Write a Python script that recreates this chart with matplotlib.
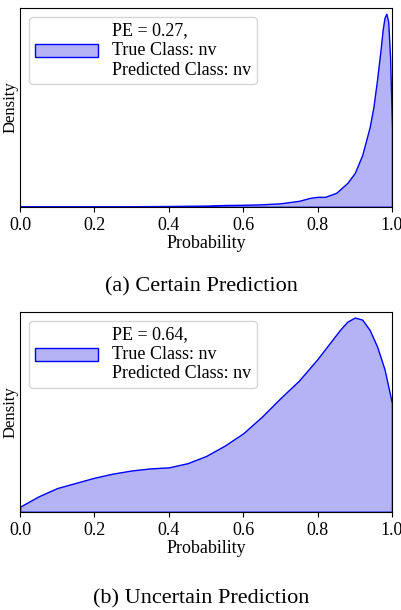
import numpy as np
import matplotlib
matplotlib.use('Agg')
import matplotlib.pyplot as plt

plt.rcParams['font.family'] = ['Liberation Serif', 'DejaVu Serif']
plt.rcParams['font.size'] = 13

# Certain prediction density
prob_a = [0.0, 0.1, 0.2, 0.3, 0.4, 0.5, 0.55, 0.6, 0.65, 0.7, 0.75, 0.78, 0.8,
          0.82, 0.85, 0.88, 0.9, 0.92, 0.94, 0.95, 0.96, 0.97, 0.975, 0.98,
          0.985, 0.99, 0.995, 1.0]
dens_a = [0.3, 0.4, 0.5, 0.6, 0.8, 1.2, 1.8, 2, 2.5, 3.5, 6, 9, 10, 10, 14, 24,
          34, 52, 80, 100, 128, 160, 178, 190, 194, 186, 150, 80]
# Uncertain prediction density
prob_b = [0.0, 0.05, 0.1, 0.15, 0.2, 0.25, 0.3, 0.35, 0.4, 0.45, 0.5, 0.55,
          0.6, 0.65, 0.7, 0.75, 0.8, 0.83, 0.86, 0.88, 0.9, 0.92, 0.94, 0.96,
          0.98, 1.0]
dens_b = [5, 15, 23, 28, 33, 37, 40, 42, 43, 47, 54, 64, 76, 92, 110, 127,
          148, 162, 176, 184, 188, 186, 176, 160, 138, 105]

panels = [
    (prob_a, dens_a, 'PE = 0.27,\nTrue Class: nv\nPredicted Class: nv',
     '(a) Certain Prediction', [0.05, 0.661, 0.925, 0.326], 0.522),
    (prob_b, dens_b, 'PE = 0.64,\nTrue Class: nv\nPredicted Class: nv',
     '(b) Uncertain Prediction', [0.05, 0.161, 0.925, 0.328], 0.010),
]

fig = plt.figure(figsize=(4.02, 6.10), dpi=100)
for x, y, lab, cap, pos, cap_y in panels:
    ax = fig.add_axes(pos)
    ax.fill_between(x, y, color='#b3b3f5', edgecolor='blue', linewidth=1,
                    label=lab)
    ax.set_xlim(0, 1)
    ax.set_ylim(0, max(y) * 1.03)
    ax.set_yticks([])
    ax.set_xticks([0.0, 0.2, 0.4, 0.6, 0.8, 1.0])
    ax.set_xlabel('Probability', labelpad=1)
    ax.set_ylabel('Density', labelpad=1, fontsize=12)
    ax.legend(loc='upper left', fontsize=13, handlelength=3.5,
              borderpad=0.3, labelspacing=0.1, handletextpad=0.8)
    fig.text(0.5, cap_y, cap, ha='center', fontsize=16)

fig.savefig('out.png', dpi=100)
